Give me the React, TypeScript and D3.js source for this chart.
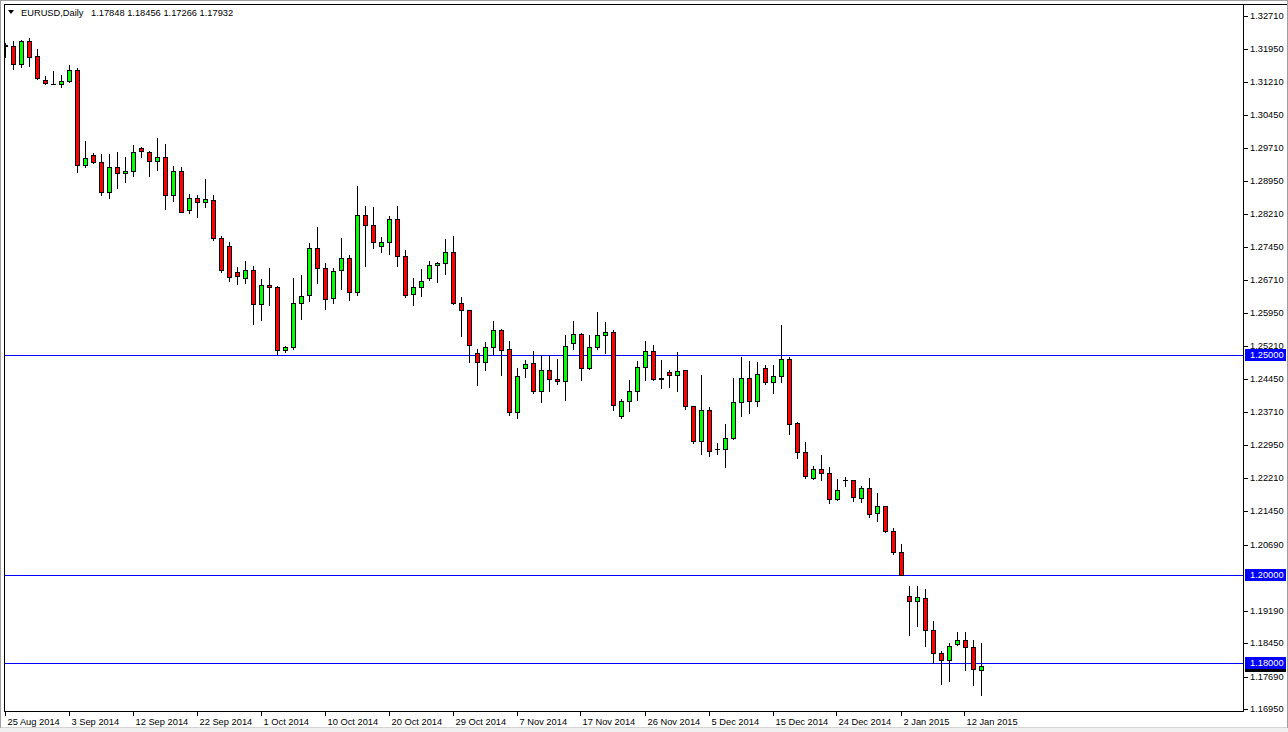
import React from "react";
import * as d3 from "d3";

const OPEN = [1.32045,1.32023,1.31607,1.3213,1.31795,1.31243,1.3117,1.31152,1.3122,1.3147,1.29311,1.29539,1.2938,1.28711,1.29266,1.2913,1.29175,1.29698,1.29607,1.29402,1.29493,1.2863,1.29175,1.28302,1.28575,1.28484,1.2853,1.27659,1.27477,1.26886,1.26757,1.26932,1.26152,1.26584,1.26545,1.25107,1.25175,1.26175,1.26357,1.27425,1.2697,1.26289,1.26925,1.27198,1.26425,1.28182,1.27948,1.2747,1.27561,1.28084,1.27243,1.2638,1.26539,1.26743,1.27039,1.27084,1.27334,1.26175,1.26016,1.25045,1.24834,1.25175,1.25561,1.2513,1.23698,1.24698,1.24811,1.24175,1.24652,1.24448,1.24402,1.25266,1.2547,1.24698,1.25175,1.25448,1.25516,1.23607,1.23948,1.24175,1.2472,1.25084,1.24466,1.24607,1.24539,1.24652,1.23834,1.23039,1.23743,1.22855,1.22857,1.23107,1.23925,1.2447,1.23948,1.24698,1.2438,1.24516,1.24902,1.23448,1.22789,1.22198,1.22402,1.22311,1.2172,1.2217,1.22152,1.21743,1.2197,1.21402,1.21561,1.20993,1.20516,1.19516,1.19402,1.1947,1.18743,1.1822,1.18061,1.18425,1.18516,1.18357,1.17848];
const HIGH = [1.32091,1.32136,1.32159,1.32205,1.31955,1.31341,1.31455,1.31364,1.31591,1.31516,1.29864,1.29584,1.29561,1.29561,1.29607,1.29493,1.29766,1.2972,1.2963,1.29932,1.29789,1.29289,1.29266,1.28666,1.28643,1.28993,1.28643,1.27705,1.27568,1.27,1.27143,1.27016,1.26727,1.26977,1.26568,1.25205,1.2675,1.26818,1.27545,1.27909,1.27084,1.2697,1.27652,1.27266,1.28841,1.28386,1.28364,1.27675,1.28159,1.28386,1.2738,1.2675,1.26948,1.2713,1.27107,1.2763,1.27698,1.26311,1.26025,1.2513,1.25289,1.25766,1.25591,1.25311,1.24698,1.2488,1.25084,1.24993,1.24993,1.24902,1.25455,1.25773,1.255,1.25455,1.2597,1.25743,1.25561,1.23993,1.24425,1.24857,1.25311,1.2522,1.2488,1.24652,1.25061,1.24659,1.23841,1.24539,1.23811,1.23,1.23425,1.24477,1.24955,1.24864,1.24834,1.24766,1.24766,1.25682,1.24948,1.2347,1.23016,1.2247,1.2272,1.22448,1.22175,1.22234,1.22159,1.22016,1.22198,1.21857,1.21568,1.21061,1.20698,1.1975,1.1975,1.19675,1.18948,1.18266,1.18448,1.18698,1.18698,1.18516,1.18456];
const LOW = [1.31773,1.31507,1.31539,1.31575,1.31273,1.31165,1.31152,1.31084,1.31215,1.29166,1.2928,1.29375,1.28643,1.28575,1.28802,1.28939,1.29075,1.29493,1.29075,1.29198,1.28325,1.28507,1.2825,1.28234,1.28143,1.2837,1.27614,1.26886,1.26682,1.26614,1.2663,1.25698,1.25802,1.2613,1.25016,1.25061,1.2513,1.25825,1.2622,1.2663,1.26039,1.26175,1.26493,1.26243,1.26357,1.2703,1.27425,1.27334,1.27289,1.2703,1.26311,1.2613,1.26334,1.26698,1.26652,1.26834,1.2617,1.25425,1.24841,1.24325,1.24666,1.25016,1.24552,1.2363,1.23561,1.24507,1.24143,1.23925,1.24175,1.24334,1.2397,1.2513,1.24425,1.24675,1.2513,1.25039,1.23743,1.23561,1.2372,1.2397,1.24425,1.2444,1.24243,1.24266,1.24175,1.23766,1.22993,1.22743,1.22698,1.22739,1.22461,1.23084,1.2362,1.23689,1.23834,1.24334,1.2413,1.2438,1.23198,1.22652,1.22198,1.2219,1.22152,1.2163,1.21698,1.22016,1.21675,1.21652,1.21311,1.2122,1.2097,1.2047,1.19989,1.18643,1.18848,1.18393,1.17993,1.1753,1.17598,1.18402,1.17848,1.17507,1.17266];
const CLOSE = [1.32023,1.31607,1.3213,1.3178,1.31289,1.31175,1.31159,1.3122,1.3147,1.29311,1.2947,1.2938,1.28711,1.29266,1.2913,1.29175,1.29607,1.2963,1.29402,1.29493,1.2863,1.29175,1.28257,1.28575,1.28484,1.28552,1.27659,1.26932,1.26773,1.26795,1.26932,1.26152,1.26584,1.26539,1.25107,1.25175,1.26175,1.26334,1.27425,1.2697,1.26266,1.26902,1.27198,1.26425,1.28182,1.27948,1.27561,1.27561,1.28084,1.27243,1.26357,1.26539,1.26675,1.27039,1.27084,1.27334,1.26175,1.26016,1.2522,1.24834,1.25175,1.25561,1.2512,1.23698,1.24516,1.24789,1.24175,1.24652,1.24448,1.24402,1.25198,1.2547,1.24698,1.25175,1.25448,1.25516,1.23857,1.23948,1.24175,1.2472,1.25084,1.24448,1.24455,1.24539,1.2463,1.23834,1.23039,1.23743,1.22811,1.2286,1.23107,1.23925,1.2447,1.23948,1.24561,1.2438,1.24516,1.24902,1.23425,1.22789,1.22243,1.22402,1.22311,1.2172,1.21925,1.22159,1.21766,1.2197,1.2138,1.21561,1.20993,1.20516,1.19993,1.19402,1.19493,1.18743,1.1822,1.18061,1.1838,1.18516,1.18357,1.17857,1.17932];

const DATE_TICKS = ["25 Aug 2014","3 Sep 2014","12 Sep 2014","22 Sep 2014","1 Oct 2014","10 Oct 2014","20 Oct 2014","29 Oct 2014","7 Nov 2014","17 Nov 2014","26 Nov 2014","5 Dec 2014","15 Dec 2014","24 Dec 2014","2 Jan 2015","12 Jan 2015"];
const DATE_TICK_STEP = 8;
const PRICE_TICKS = [1.3271,1.3195,1.3121,1.3045,1.2971,1.2895,1.2821,1.2745,1.2671,1.2595,1.2521,1.2445,1.2371,1.2295,1.2221,1.2145,1.2069,1.1919,1.1845,1.1769,1.1695];
const LEVELS = [1.25, 1.2, 1.18];
const HEADER = { symbol: "EURUSD,Daily", o: "1.17848", h: "1.18456", l: "1.17266", c: "1.17932" };
const BID = 1.17932;

const W = 1288, H = 732;
const L = 4, T = 4, R = 1243, B = 711;
const FONT = "'Liberation Sans', Arial, sans-serif";
const FS = 9.3;

export default function App() {
  const n = OPEN.length;
  const x = d3.scaleLinear().domain([0, n - 1]).range([5.5, 5.5 + 8 * (n - 1)]);
  const y = d3.scaleLinear().domain([1.25, 1.2]).range([355, 575]);
  const idx = d3.range(n);
  const py = (p: number) => Math.round(y(p)) + 0.5;

  return (
    <svg width={W} height={H} style={{ position: "absolute", left: 0, top: 0, background: "#fff" }}
      fontFamily={FONT} shapeRendering="crispEdges">
      <defs>
        <clipPath id="plot"><rect x={L + 1} y={T + 1} width={R - L - 1} height={B - T - 1} /></clipPath>
      </defs>
      <rect x={0} y={0} width={W} height={H} fill="#fff" />
      <rect x={0} y={728} width={W} height={4} fill="#f0f0f0" />
      <line x1={0} x2={W} y1={727.5} y2={727.5} stroke="#d4d4d4" />
      <line x1={0.5} x2={0.5} y1={0} y2={728} stroke="#a0a0a0" />
      <line x1={0} x2={W} y1={0.5} y2={0.5} stroke="#a0a0a0" />
      <line x1={W - 0.5} x2={W - 0.5} y1={0} y2={728} stroke="#a0a0a0" />

      <g clipPath="url(#plot)">
        {LEVELS.map((lv) => (
          <line key={lv} x1={L} x2={R} y1={py(lv)} y2={py(lv)} stroke="#0000ff" />
        ))}
        {idx.map((i) => {
          const o = OPEN[i], c = CLOSE[i], h = HIGH[i], l = LOW[i];
          const cx = x(i);
          const t = Math.round(y(Math.max(o, c)));
          const b = Math.round(y(Math.min(o, c)));
          const up = c >= o;
          return (
            <g key={i}>
              <line x1={cx} x2={cx} y1={Math.round(y(h))} y2={Math.round(y(l)) + 1} stroke="#000" />
              {b - t >= 1 ? (
                <rect x={cx - 2} y={t + 0.5} width={4} height={b - t} fill={up ? "#00ff00" : "#ff0000"} stroke="#000" />
              ) : (
                <line x1={cx - 2.5} x2={cx + 2.5} y1={t + 0.5} y2={t + 0.5} stroke="#000" />
              )}
            </g>
          );
        })}
      </g>

      {/* frame */}
      <line x1={L + 0.5} x2={L + 0.5} y1={T} y2={B + 1} stroke="#000" />
      <line x1={L} x2={W - 1} y1={T + 0.5} y2={T + 0.5} stroke="#000" />
      <line x1={R + 0.5} x2={R + 0.5} y1={T} y2={B + 1} stroke="#000" />
      <line x1={L} x2={R + 1} y1={B + 0.5} y2={B + 0.5} stroke="#000" />

      {/* header */}
      <path d="M8,10 L14,10 L11,14 Z" fill="#000" shapeRendering="auto" />
      <text x={21} y={16} fontSize={FS} fill="#000">{HEADER.symbol}</text>
      <text x={91} y={16} fontSize={FS} fill="#000">{`${HEADER.o} ${HEADER.h} ${HEADER.l} ${HEADER.c}`}</text>

      {/* price axis */}
      {PRICE_TICKS.map((p) => (
        <g key={p}>
          <line x1={R + 1} x2={R + 5} y1={py(p)} y2={py(p)} stroke="#000" />
          <text x={1250} y={y(p)} dy="0.35em" fontSize={FS} fill="#000">{p.toFixed(5)}</text>
        </g>
      ))}
      <rect x={1245} y={Math.round(y(BID)) - 6} width={41} height={12} fill="#000" />
      {LEVELS.map((lv) => (
        <g key={lv}>
          <rect x={1245} y={Math.round(y(lv)) - 6} width={41} height={12} fill="#0000ff" />
          <text x={1250} y={y(lv)} dy="0.35em" fontSize={FS} fill="#fff">{lv.toFixed(5)}</text>
        </g>
      ))}

      {/* date axis */}
      {DATE_TICKS.map((d, k) => {
        const xx = Math.round(x(k * DATE_TICK_STEP)) - 0.5;
        return (
          <g key={d}>
            <line x1={xx} x2={xx} y1={B + 1} y2={B + 5} stroke="#000" />
            <text x={xx + 2} y={725} fontSize={FS} fill="#000">{d}</text>
          </g>
        );
      })}
    </svg>
  );
}
